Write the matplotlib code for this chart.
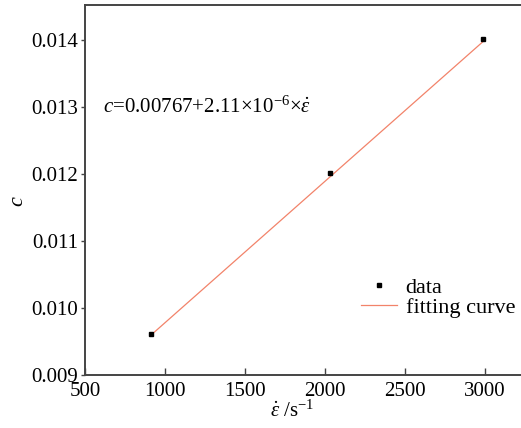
"""
Fit of c against strain rate, data points and linear fitting curve.
"""

import numpy as np
import matplotlib
matplotlib.use("Agg")
import matplotlib.pyplot as plt

# data
strain_rate = [912, 2031, 2988]
c_values = [0.00961, 0.01201, 0.01402]

# fit coefficients as printed on the chart
fit_a = 0.00767
fit_b = 2.11e-6

x_ticks = [500, 1000, 1500, 2000, 2500, 3000]
y_ticks = [0.009, 0.010, 0.011, 0.012, 0.013, 0.014]

plt.rcParams['font.family'] = 'serif'
plt.rcParams['font.serif'] = ['Liberation Serif', 'DejaVu Serif']
plt.rcParams['mathtext.fontset'] = 'custom'
plt.rcParams['mathtext.rm'] = 'Liberation Serif'
plt.rcParams['mathtext.it'] = 'Liberation Serif:italic'

fig = plt.figure(figsize=(5.21, 4.28), dpi=100)
ax = fig.add_axes([85 / 521, 53 / 428, 440 / 521, 370 / 428])

fit_x = np.array([strain_rate[0], strain_rate[-1]])
fit_y = fit_a + fit_b * fit_x

ax.plot(fit_x, fit_y, color='#f2836a', linewidth=0.9, label='fitting curve')
ax.plot(strain_rate, c_values, linestyle='none', marker='s', markersize=3,
        color='black', label='data', zorder=3)

ax.set_xlim(500, 3250)
ax.set_ylim(0.009, 0.01452)
ax.set_xticks(x_ticks)
ax.set_yticks(y_ticks)
ax.set_xticklabels([str(t) for t in x_ticks])
ax.set_yticklabels([f"{t:.3f}" for t in y_ticks])

for side in ['left', 'bottom', 'top']:
    ax.spines[side].set_color('#444444')
    ax.spines[side].set_linewidth(1.4)
ax.spines['right'].set_visible(False)

ax.tick_params(axis='x', direction='in', length=5, width=1, color='#444444',
               labelsize=15, pad=5)
ax.tick_params(axis='y', direction='out', length=3, width=1, color='#444444',
               labelsize=15, pad=2)

ax.set_xlabel(r'$\dot{\varepsilon}$ /s$^{-1}$', fontsize=15)
ax.xaxis.set_label_coords(0.47, -0.07)
ax.set_ylabel(r'$c$', fontsize=16)
ax.yaxis.set_label_coords(-57 / 440, 0.47)

ax.text(612, 0.013,
        r'$c$=0.00767+2.11×10$^{-6}$×$\dot{\varepsilon}$',
        fontsize=15, ha='left', va='center')

handles, labels = ax.get_legend_handles_labels()
ax.legend(handles[::-1], labels[::-1], loc='upper left',
          bbox_to_anchor=((350 - 85) / 440, (375 - 266) / 370),
          frameon=False, fontsize=16, handlelength=1.6,
          handletextpad=0.4, labelspacing=0.0, borderpad=0)

fig.savefig('out.png', dpi=100)
